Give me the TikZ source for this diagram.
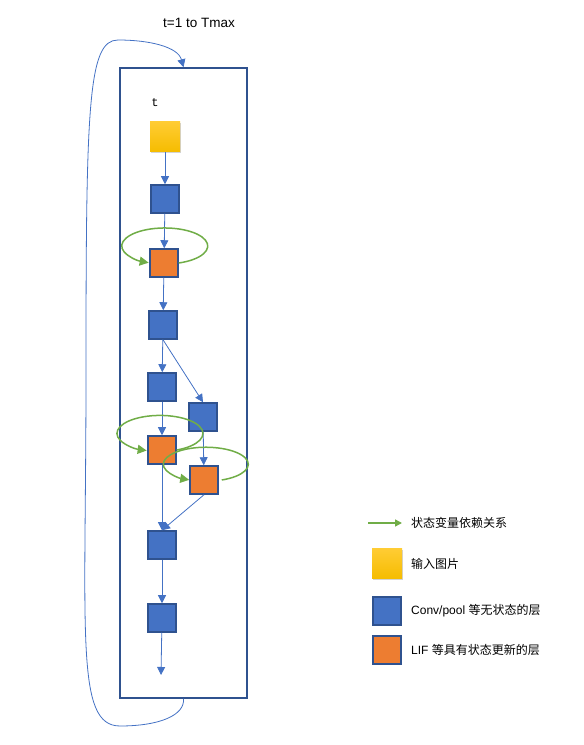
\documentclass[tikz,border=0pt]{standalone}
\usepackage{fontspec}
\setmainfont{Liberation Sans}
\newfontfamily\cjk{Noto Sans CJK SC}
\newfontfamily\monot{Liberation Mono}
\usepackage{tikz}
\usetikzlibrary{arrows.meta,shadows}
\usepackage{xcolor}
\definecolor{convblue}{HTML}{4472C4}
\definecolor{edgeblue}{HTML}{2F528F}
\definecolor{lifor}{HTML}{ED7D31}
\definecolor{stgreen}{HTML}{70AD47}
\definecolor{intop}{HTML}{FFCC33}
\definecolor{inbot}{HTML}{F5BC00}

\tikzset{
  conv/.style = {draw=edgeblue, line width=1.5pt, fill=convblue, minimum size=28pt, inner sep=0pt},
  lif/.style = {conv, fill=lifor},
  inimg/.style = {minimum size=30pt, inner sep=0pt, top color=intop, bottom color=inbot,
    drop shadow={opacity=0.35, shadow xshift=1pt, shadow yshift=-1pt}},
  flow/.style = {draw=convblue, line width=0.8pt, -{Triangle[width=8pt,length=8pt]}},
  state/.style = {draw=stgreen, line width=1.5pt, -{Triangle[width=9pt,length=9pt]}},
  lab/.style = {anchor=west, inner sep=0pt, font=\fontsize{12}{14}\selectfont}
}

\begin{document}
\begin{tikzpicture}[x=1pt, y=1pt]
\useasboundingbox (0,0) rectangle (584,745);

% outer frame and time loop
\node[draw=edgeblue, line width=1.5pt, minimum width=127pt, minimum height=630pt, inner sep=0pt] (box) at (183.5,362) {};
\node[font=\fontsize{13.5}{15}\selectfont] (tmax) at (199,722) {t=1 to Tmax};
\node[font=\monot\fontsize{12}{14}\selectfont] (tlab) at (155,642) {t};
\draw[draw=convblue, line width=0.8pt, -{Triangle[width=8pt,length=8pt]}]
  (box.south) .. controls (185,30) and (160,19) .. (120,19)
  .. controls (75,19) and (86,110) .. (86,372)
  .. controls (86,640) and (88,705) .. (118,705)
  .. controls (150,705) and (178,698) .. (box.north);

% layers
\node[inimg] (img) at (165,608) {};
\foreach \n/\x/\y in {B1/165/546, B2/163/420, B3/162/358, B4/203/328, B5/162/200, B6/162/127}{
  \node[conv] (\n) at (\x,\y) {};
}
\foreach \n/\x/\y in {O1/164/482, O2/162/295, O3/204/265}{
  \node[lif] (\n) at (\x,\y) {};
}
\coordinate (end) at (161,70);

\draw[flow] (img) -- (B1);
\draw[flow] (B1) -- (O1);
\draw[flow] (O1) -- (B2);
\draw[flow] (B2) -- (B3);
\draw[flow] (B2.south) -- (B4.north);
\draw[flow] (B3) -- (O2);
\draw[flow] (B4) -- (O3);
\draw[flow] (O2) -- (B5);
\draw[flow] (O3.south) -- (B5.north);
\draw[flow] (B5) -- (B6);
\draw[flow] (B6) -- (end);

% state loops
\draw[state] (O1.east) arc[start angle=-71, end angle=248, x radius=43pt, y radius=18pt];
\draw[state] (O2.east) arc[start angle=-67, end angle=252, x radius=43pt, y radius=18pt];
\draw[state] ([xshift=3pt]O3.east) arc[start angle=-68, end angle=247, x radius=42.5pt, y radius=17pt];

% legend
\coordinate (g1) at (368,222);
\coordinate (g2) at (402,222);
\draw[state, -{Triangle[width=7pt,length=7pt]}] (g1) -- (g2);
\node[lab] (lg) at (411,222) {\cjk 状态变量依赖关系};
\node[inimg] (limg) at (387,181) {};
\node[lab] (li) at (411,181) {\cjk 输入图片};
\node[conv] (lconv) at (387,134) {};
\node[lab] (lc) at (411,134) {Conv/pool {\cjk 等无状态的层}};
\node[lif] (llif) at (387,95) {};
\node[lab] (ll) at (411,95) {LIF {\cjk 等具有状态更新的层}};
\end{tikzpicture}
\end{document}
